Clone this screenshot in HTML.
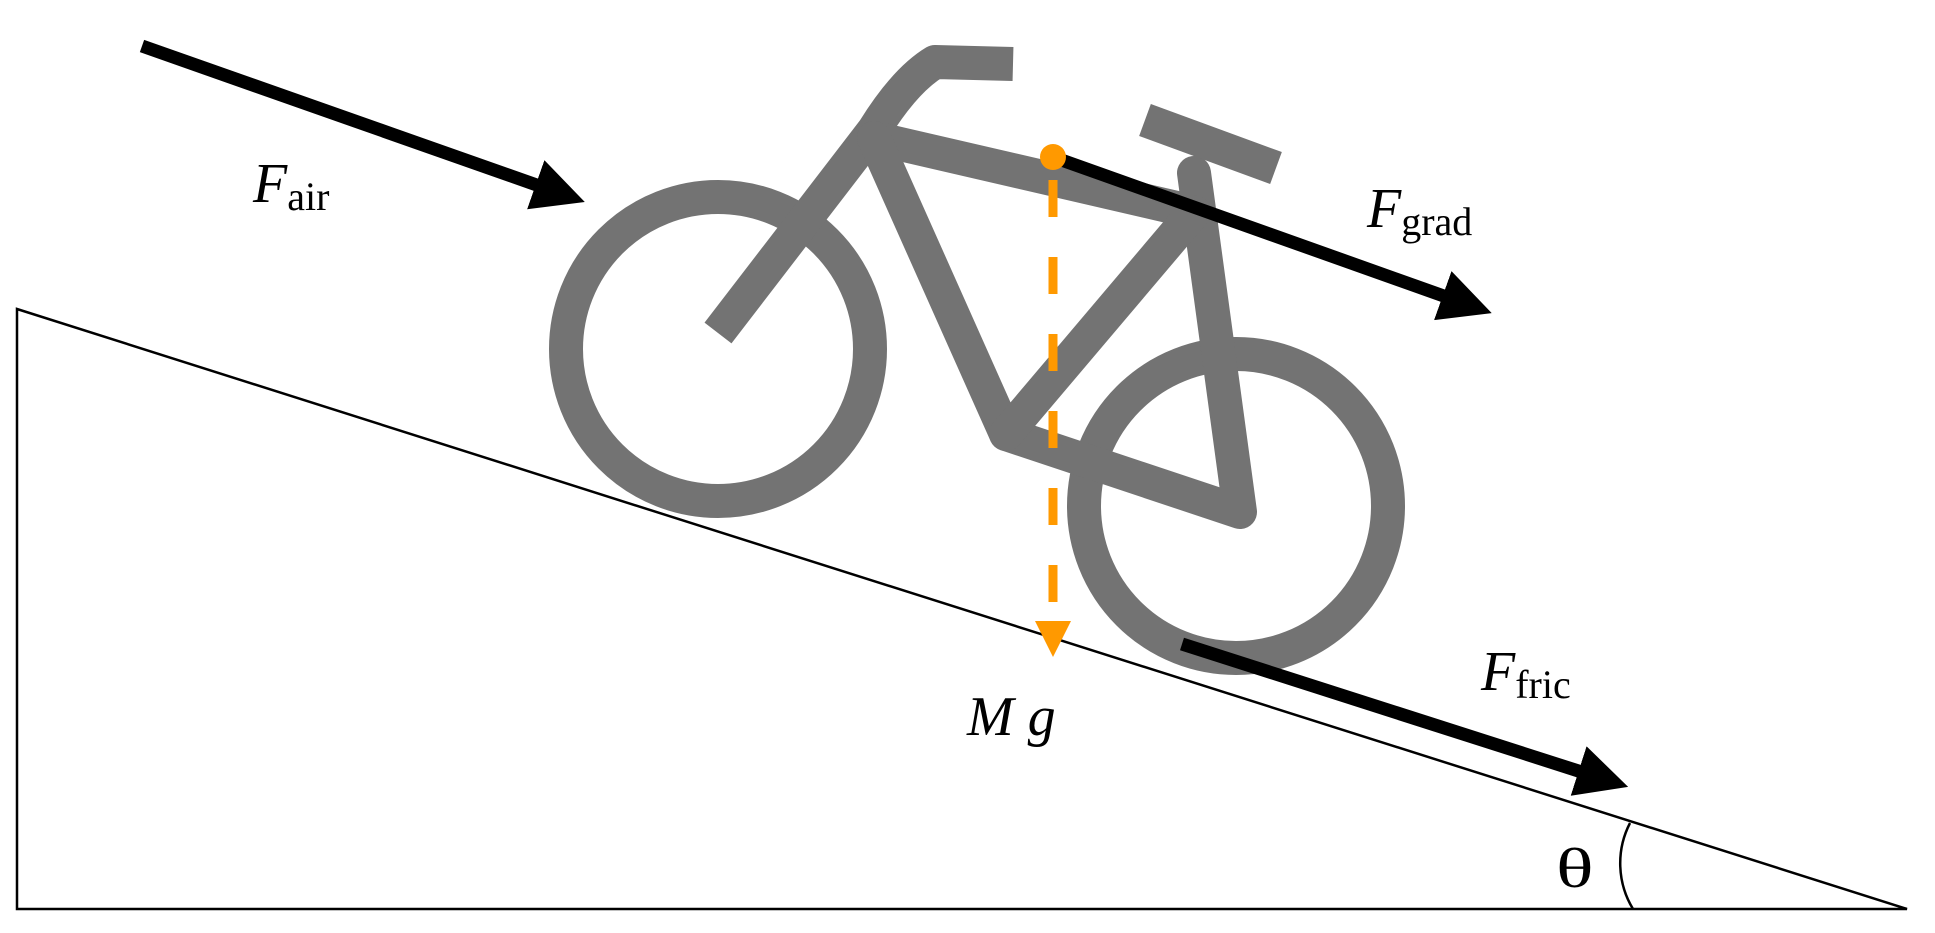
<!DOCTYPE html>
<html><head><style>html,body{margin:0;padding:0;background:#fff;}svg{display:block}</style></head>
<body>
<svg width="1935" height="933" viewBox="0 0 1935 933" xmlns="http://www.w3.org/2000/svg">
<defs>
<marker id="ab" markerWidth="4" markerHeight="4" refX="1" refY="2" orient="auto" markerUnits="strokeWidth"><path d="M0,0 L4,2 L0,4 z" fill="#000"/></marker>
<marker id="ao" markerWidth="4" markerHeight="4" refX="1" refY="2" orient="auto" markerUnits="strokeWidth"><path d="M0,0 L4,2 L0,4 z" fill="#f90"/></marker>
</defs>
<!-- ramp -->
<path d="M17,309 L17,909 L1907,909 Z" fill="none" stroke="#000" stroke-width="2.5"/>
<path d="M1630,823 A88,88 0 0 0 1633,909" fill="none" stroke="#000" stroke-width="2.5"/>
<text x="0" y="0" transform="translate(1556,887) scale(1.4,1)" font-family="Liberation Serif, serif" font-size="56">θ</text>
<!-- bike -->
<g fill="none" stroke="#737373" stroke-width="34" stroke-linecap="round" stroke-linejoin="round">
<circle cx="718" cy="349" r="152"/>
<circle cx="1236" cy="506" r="152"/>
<path d="M718,333 L874,130 Q905,80 935,62 L1013,64" stroke-linecap="butt"/>
<path d="M874,138 L1194,212"/>
<path d="M874,138 L1006,434 L1240,512 L1194,173"/>
<path d="M1006,434 L1194,212"/>
<path d="M1145,120 L1276,168" stroke-linecap="butt"/>
</g>
<!-- arrows -->
<g stroke="#000" stroke-width="13">
<line x1="142" y1="46" x2="548" y2="189" marker-end="url(#ab)"/>
<line x1="1053" y1="157" x2="1455" y2="300" marker-end="url(#ab)"/>
<line x1="1182" y1="644" x2="1591" y2="775" marker-end="url(#ab)"/>
</g>
<circle cx="1053" cy="157" r="13" fill="#f90"/>
<line x1="1053" y1="160" x2="1053" y2="630" stroke="#f90" stroke-width="9" stroke-dasharray="37,40" stroke-dashoffset="-20" marker-end="url(#ao)"/>
<g font-family="Liberation Serif, serif" font-size="56">
<text x="253" y="202"><tspan font-style="italic">F</tspan><tspan font-size="40" dy="8">air</tspan></text>
<text x="1367" y="227"><tspan font-style="italic">F</tspan><tspan font-size="40" dy="8">grad</tspan></text>
<text x="1481" y="690"><tspan font-style="italic">F</tspan><tspan font-size="40" dy="8">fric</tspan></text>
<text x="967" y="735" font-style="italic">M g</text>
</g>
</svg>
</body></html>
